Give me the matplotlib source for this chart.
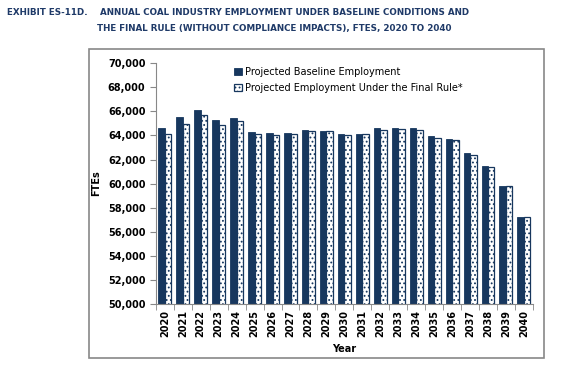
import numpy as np
import matplotlib.pyplot as plt
from matplotlib.patches import Rectangle

# data
years = [str(y) for y in range(2020, 2041)]
baseline = [64600, 65500, 66080, 65250, 65440, 64250, 64170, 64160, 64430, 64350, 64150,
            64150, 64640, 64580, 64580, 63920, 63670, 62500, 61420, 59830, 57250]
final_rule = [64140, 64970, 65670, 64890, 65170, 64080, 64000, 64150, 64400, 64330, 64050,
              64150, 64470, 64530, 64470, 63800, 63640, 62390, 61360, 59780, 57190]
y_ticks = np.arange(50000, 70001, 2000)

navy = '#17375E'
title_col = '#1F3A68'

plt.rcParams['hatch.color'] = navy
plt.rcParams['hatch.linewidth'] = 0.8

fig = plt.figure(figsize=(5.73, 3.65), dpi=100)

# grey frame around chart area
fig.patches.append(Rectangle((0.155, 0.019), 0.794, 0.847, transform=fig.transFigure,
                             fill=False, edgecolor='#888888', linewidth=1.2))

fig.text(0.012, 0.965, 'EXHIBIT ES-11D.', color=title_col, fontsize=6.3,
         fontweight='bold', va='center')
fig.text(0.175, 0.965, 'ANNUAL COAL INDUSTRY EMPLOYMENT UNDER BASELINE CONDITIONS AND',
         color=title_col, fontsize=6.3, fontweight='bold', va='center')
fig.text(0.169, 0.921, 'THE FINAL RULE (WITHOUT COMPLIANCE IMPACTS), FTES, 2020 TO 2040',
         color=title_col, fontsize=6.3, fontweight='bold', va='center')

ax = fig.add_axes([0.272, 0.167, 0.658, 0.66])
x = np.arange(len(years))
w = 0.36
ax.bar(x - w / 2, baseline, width=w, color=navy, edgecolor=navy, linewidth=0.6,
       label='Projected Baseline Employment')
ax.bar(x + w / 2, final_rule, width=w, color='white', edgecolor=navy, linewidth=0.9,
       hatch='....', label='Projected Employment Under the Final Rule*')

ax.set_ylim(50000, 70000)
ax.set_xlim(-0.5, len(years) - 0.5)
ax.set_yticks(y_ticks)
ax.set_yticklabels([f'{v:,}' for v in y_ticks], fontsize=7, fontweight='bold')
ax.set_xticks(x)
ax.set_xticklabels(years, rotation=90, fontsize=7, fontweight='bold')
ax.set_xticks(np.arange(-0.5, len(years), 1), minor=True)
ax.tick_params(axis='x', which='major', length=0, pad=4)
ax.tick_params(axis='x', which='minor', length=4, color='#888888')
ax.tick_params(axis='y', length=4, color='#888888')

for s in ['top', 'right']:
    ax.spines[s].set_visible(False)
for s in ['left', 'bottom']:
    ax.spines[s].set_color('#888888')

ax.set_ylabel('FTEs', fontsize=7, fontweight='bold', labelpad=5)
ax.set_xlabel('Year', fontsize=7, fontweight='bold', labelpad=5)

ax.legend(loc='upper left', bbox_to_anchor=(0.185, 1.02), frameon=False, fontsize=7,
          handlelength=0.8, handleheight=0.8, handletextpad=0.3, labelspacing=0.6)

fig.savefig('out.png', dpi=100)
